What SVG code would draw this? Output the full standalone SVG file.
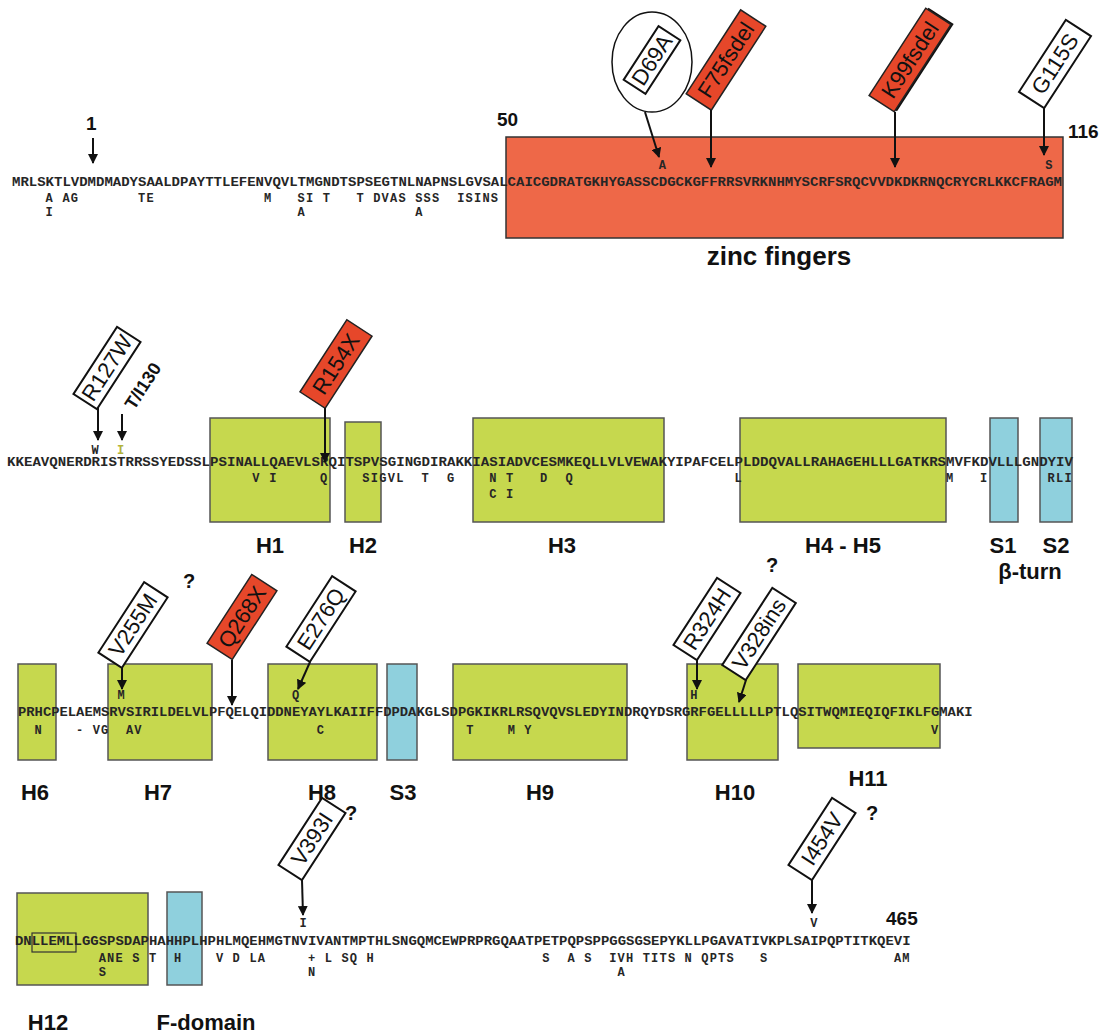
<svg xmlns="http://www.w3.org/2000/svg" width="1107" height="1036" viewBox="0 0 1107 1036">
<defs>
<marker id="ah" viewBox="0 0 10 10" refX="9" refY="5" markerWidth="5" markerHeight="5" orient="auto"><path d="M0,0 L10,5 L0,10 z" fill="#111"/></marker>
<style>
.seq{font-family:"Liberation Mono","DejaVu Sans Mono",monospace;font-weight:bold;font-size:12px;fill:#262626}
.hbox{fill:#c6d84e;stroke:#555;stroke-width:1.5}
.sbox{fill:#8fd0dd;stroke:#555;stroke-width:1.5}
.obox{fill:#ee6848;stroke:#333;stroke-width:1.5}
.lab{font-family:"Liberation Sans",Arial,sans-serif;font-weight:bold;font-size:22px;fill:#111;text-anchor:middle}
.mut{font-family:"Liberation Sans",Arial,sans-serif;font-size:22px;fill:#111;text-anchor:middle}
.wbox{fill:#fff;stroke:#111;stroke-width:2}
.rbox{fill:#e6472a;stroke:#222;stroke-width:1.5}
.arr{stroke:#111;stroke-width:2;fill:none;marker-end:url(#ah)}
.num{font-family:"Liberation Sans",Arial,sans-serif;font-weight:bold;font-size:19px;fill:#111}
</style>
</defs>
<rect width="1107" height="1036" fill="#fff"/>

<!-- Row 1 -->
<g id="zinc-fingers">
<rect class="obox" x="506" y="137" width="557" height="101"/>
<text class="lab" x="779" y="265" style="font-size:26px">zinc fingers</text>
</g>
<g id="row1-seq">
<text class="seq" x="12" y="186" textLength="1050" lengthAdjust="spacingAndGlyphs">MRLSKTLVDMDMADYSAALDPAYTTLEFENVQVLTMGNDTSPSEGTNLNAPNSLGVSALCAICGDRATGKHYGASSCDGCKGFFRRSVRKNHMYSCRFSRQCVVDKDKRNQCRYCRLKKCFRAGM</text>
<text class="seq" x="658.8 1045.2" y="169">AS</text>
<text class="seq" x="45.6 62.4 70.8 138 146.4 264 297.6 306 322.8 356.4 373.2 381.6 390 398.4 415.2 423.6 432 457.2 465.6 474 482.4 490.8" y="202">AAGTEMSITTDVASSSSISINS</text>
<text class="seq" x="45.6 297.6 415.2" y="216">IAA</text>
<text class="num" x="86" y="130">1</text>
<text class="num" x="497" y="126">50</text>
<text class="num" x="1068" y="138">116</text>
</g>
<g id="mut-D69A">
<ellipse cx="652" cy="62" rx="40" ry="50" fill="#fff" stroke="#111" stroke-width="1.5"/>
<g transform="translate(652,60) rotate(-57)"><rect class="wbox" x="-32" y="-13" width="64" height="26"/><text class="mut" x="0" y="7.5">D69A</text></g>
</g>
<g id="mut-F75fsdel" transform="translate(726,60) rotate(-57)"><rect class="rbox" x="-50" y="-15" width="100" height="30"/><text class="mut" x="0" y="7.5">F75fsdel</text></g>
<g id="mut-K99fsdel" transform="translate(910,60) rotate(-57)"><rect x="-50" y="-13" width="104" height="30" fill="#111"/><rect class="rbox" x="-52" y="-15" width="104" height="30" stroke="#111" stroke-width="2.5"/><text class="mut" x="0" y="7.5">K99fsdel</text></g>
<g id="mut-G115S" transform="translate(1055,64) rotate(-57)"><rect class="wbox" x="-43" y="-15" width="86" height="30"/><text class="mut" x="0" y="7.5">G115S</text></g>

<!-- Row 2 -->
<g id="H1"><rect class="hbox" x="210" y="418" width="120" height="104"/><text class="lab" x="270" y="553">H1</text></g>
<g id="H2"><rect class="hbox" x="345" y="422" width="36" height="100"/><text class="lab" x="363" y="553">H2</text></g>
<g id="H3"><rect class="hbox" x="473" y="418" width="191" height="104"/><text class="lab" x="562" y="553">H3</text></g>
<g id="H4-H5"><rect class="hbox" x="740" y="418" width="206" height="104"/><text class="lab" x="843" y="553">H4 - H5</text></g>
<g id="S1"><rect class="sbox" x="990" y="418" width="28" height="104"/><text class="lab" x="1003" y="553">S1</text></g>
<g id="S2"><rect class="sbox" x="1040" y="418" width="32" height="104"/><text class="lab" x="1056" y="553">S2</text></g>
<g id="beta-turn"><text class="lab" x="1030" y="579">β-turn</text></g>
<g id="row2-seq">
<text class="seq" x="7" y="466" textLength="1066" lengthAdjust="spacingAndGlyphs">KKEAVQNERDRISTRRSSYEDSSLPSINALLQAEVLSRQITSPVSGINGDIRAKKIASIADVCESMKEQLLVLVEWAKYIPAFCELPLDDQVALLRAHAGEHLLLGATKRSMVFKDVLLLGNDYIV</text>
<text class="seq" x="91.6" y="454">W</text>
<text class="seq" x="117" y="454" style="fill:#b3b33a">I</text>
<text class="seq" x="252.3 269.3 320 362.3 370.8 379.2 387.7 396.2 421.5 446.9 489.2 506.1 540 565.4 734.6 946 979.9 1047.6 1056 1064.5" y="482">VIQSIGVLTGNTDQLMIRLI</text>
<text class="seq" x="489.2 506.1" y="498">CI</text>
</g>
<g id="mut-R127W" transform="translate(107,368) rotate(-57)"><rect class="wbox" x="-40" y="-14" width="80" height="28"/><text class="mut" x="0" y="7.5">R127W</text></g>
<g id="mut-T130I" transform="translate(143,386) rotate(-57)"><text class="mut" x="0" y="6" style="font-size:18px;font-weight:bold">T/I130</text></g>
<g id="mut-R154X" transform="translate(336,364) rotate(-57)"><rect class="rbox" x="-43" y="-15" width="86" height="30"/><text class="mut" x="0" y="7.5">R154X</text></g>

<!-- Row 3 -->
<g id="H6"><rect class="hbox" x="18" y="664" width="38" height="96"/><text class="lab" x="35" y="800">H6</text></g>
<g id="H7"><rect class="hbox" x="108" y="664" width="104" height="96"/><text class="lab" x="158" y="800">H7</text></g>
<g id="H8"><rect class="hbox" x="268" y="664" width="109" height="96"/><text class="lab" x="322" y="800">H8</text></g>
<g id="S3"><rect class="sbox" x="387" y="664" width="30" height="96"/><text class="lab" x="403" y="800">S3</text></g>
<g id="H9"><rect class="hbox" x="453" y="664" width="174" height="96"/><text class="lab" x="540" y="800">H9</text></g>
<g id="H10"><rect class="hbox" x="687" y="664" width="91" height="96"/><text class="lab" x="735" y="800">H10</text></g>
<g id="H11"><rect class="hbox" x="798" y="664" width="142" height="84"/><text class="lab" x="868" y="786">H11</text></g>
<g id="row3-seq">
<text class="seq" x="18" y="716" textLength="954.5" lengthAdjust="spacingAndGlyphs">PRHCPELAEMSRVSIRILDELVLPFQELQIDDNEYAYLKAIIFFDPDAKGLSDPGKIKRLRSQVQVSLEDYINDRQYDSRGRFGELLLLLPTLQSITWQMIEQIQFIKLFGMAKI</text>
<text class="seq" x="117.6 291.9 690.3" y="699">MQH</text>
<text class="seq" x="34.6 76.1 92.7 101 125.9 134.2 316.8 466.2 507.7 524.3 931" y="734">N-VGAVCTMYV</text>
</g>
<g id="mut-V255M" transform="translate(133,625) rotate(-57)"><rect class="wbox" x="-42" y="-14" width="84" height="28"/><text class="mut" x="0" y="7.5">V255M</text></g>
<g id="mut-Q268X" transform="translate(242,617) rotate(-57)"><rect class="rbox" x="-41" y="-15" width="82" height="30"/><text class="mut" x="0" y="7.5">Q268X</text></g>
<g id="mut-E276Q" transform="translate(321,619) rotate(-57)"><rect class="wbox" x="-42" y="-14" width="84" height="28"/><text class="mut" x="0" y="7.5">E276Q</text></g>
<g id="mut-R324H" transform="translate(707,619) rotate(-57)"><rect class="wbox" x="-40" y="-14" width="80" height="28"/><text class="mut" x="0" y="7.5">R324H</text></g>
<g id="mut-V328ins" transform="translate(759,634) rotate(-57)"><rect class="wbox" x="-46" y="-14" width="92" height="28"/><text class="mut" x="0" y="7.5">V328ins</text></g>
<text class="num" x="183" y="588" style="font-size:20px">?</text>
<text class="num" x="766" y="572" style="font-size:20px">?</text>

<!-- Row 4 -->
<g id="H12"><rect class="hbox" x="17" y="893" width="131" height="92"/><rect x="32" y="933" width="44" height="19" fill="none" stroke="#333" stroke-width="1.2"/><text class="lab" x="48" y="1030">H12</text></g>
<g id="F-domain"><rect class="sbox" x="167" y="892" width="35" height="93"/><text class="lab" x="206" y="1030">F-domain</text></g>
<g id="row4-seq">
<text class="seq" x="15" y="945" textLength="895.6" lengthAdjust="spacingAndGlyphs">DNLLEMLLGGSPSDAPHAHHPLHPHLMQEHMGTNVIVANTMPTHLSNGQMCEWPRPRGQAATPETPQPSPPGGSGSEPYKLLPGAVATIVKPLSAIPQPTITKQEVI</text>
<text class="seq" x="299.6 810.2" y="927">IV</text>
<text class="seq" x="98.7 107.1 115.4 132.2 148.9 174 215.9 232.6 249.4 257.7 308 324.7 341.4 349.8 366.5 542.3 567.4 584.2 609.3 617.6 626 642.8 651.1 659.5 667.9 684.6 701.3 709.7 718.1 726.5 759.9 893.9 902.2" y="962">ANESTHVDLA+LSQHSASIVHTITSNQPTSSAM</text>
<text class="seq" x="98.7 308 617.6" y="976">SNA</text>
<text class="num" x="886" y="925">465</text>
</g>
<g id="mut-V393I" transform="translate(312,839) rotate(-57)"><rect class="wbox" x="-40" y="-14" width="80" height="28"/><text class="mut" x="0" y="7.5">V393I</text></g>
<g id="mut-I454V" transform="translate(822,839) rotate(-57)"><rect class="wbox" x="-40" y="-14" width="80" height="28"/><text class="mut" x="0" y="7.5">I454V</text></g>
<text class="num" x="345" y="820" style="font-size:20px">?</text>
<text class="num" x="866" y="820" style="font-size:20px">?</text>

<g id="connectors">
<line class="arr" x1="93" y1="138" x2="93" y2="163"/>
<line class="arr" x1="645" y1="112" x2="659" y2="157"/>
<line class="arr" x1="711" y1="110" x2="711" y2="167"/>
<line class="arr" x1="895" y1="112" x2="895" y2="167"/>
<line class="arr" x1="1044" y1="108" x2="1044" y2="155"/>
<line class="arr" x1="98" y1="408" x2="98" y2="440"/>
<line class="arr" x1="122" y1="414" x2="122" y2="440"/>
<line class="arr" x1="325" y1="408" x2="325" y2="462"/>
<line class="arr" x1="122" y1="668" x2="122" y2="689"/>
<line class="arr" x1="232" y1="660" x2="232" y2="705"/>
<line class="arr" x1="310" y1="662" x2="298" y2="689"/>
<line class="arr" x1="697" y1="660" x2="697" y2="689"/>
<line class="arr" x1="746" y1="680" x2="739" y2="702"/>
<line class="arr" x1="302" y1="880" x2="303" y2="915"/>
<line class="arr" x1="812" y1="880" x2="812" y2="913"/>
</g>
</svg>
